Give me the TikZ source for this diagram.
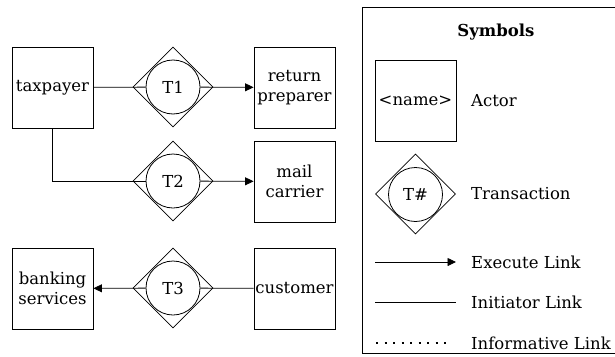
\documentclass[tikz,border=0pt]{standalone}
\usepackage{fontspec}
\setmainfont{DejaVu Serif}
\usepackage{tikz}
\usetikzlibrary{shapes.geometric}
\usetikzlibrary{arrows.meta}
\usetikzlibrary{positioning}

\tikzset{
  actor/.style={draw, line width=0.9pt, minimum width=81pt, minimum height=81pt, inner sep=0pt, align=center},
  transdiamond/.style={draw, diamond, line width=0.8pt, minimum width=80pt, minimum height=80pt, inner sep=0pt},
  transcircle/.style={draw, circle, line width=0.8pt, minimum size=54pt, inner sep=0pt},
  execlink/.style={line width=0.8pt, -{Triangle[length=8.5pt,width=8pt]}},
  initlink/.style={line width=0.8pt},
  infolink/.style={line width=1.3pt, dash pattern=on 2pt off 6.5pt},
  legtext/.style={anchor=west, inner sep=0pt}
}

\begin{document}
\begin{tikzpicture}[x=1pt,y=-1pt]
\fontsize{16.5}{20}\selectfont
\useasboundingbox (0,0) rectangle (615,356);

% actors
\node [actor] (tax)  at (52.5,87.5)  {taxpayer};
\node [actor] (prep) at (294.5,87.5) {return\\preparer};
\node [actor] (mail) at (294.5,181.5) {mail\\carrier};
\node [actor] (bank) at (52.5,288.5) {banking\\services};
\node [actor] (cust) at (294.5,288.5) {customer};

% transactions
\node [transdiamond] (d1) at (173,87) {};
\node [transcircle]  (t1) at (173,87) {T1};
\node [transdiamond] (d2) at (173,181) {};
\node [transcircle]  (t2) at (173,181) {T2};
\node [transdiamond] (d3) at (173,288) {};
\node [transcircle]  (t3) at (173,288) {T3};

% links
\draw [initlink] (tax) -- (t1);
\draw [execlink] (t1) -- (prep);
\draw [initlink] (tax.south) |- (t2);
\draw [execlink] (t2) -- (mail);
\draw [initlink] (cust) -- (t3);
\draw [execlink] (t3) -- (bank);

% legend
\coordinate (lgsw) at (362,353);
\coordinate (lgne) at (620,7);
\draw [line width=0.9pt] (lgsw) rectangle (lgne);
\node [font=\bfseries] (lgtitle) at (496,32) {Symbols};

\node [actor] (lgactor) at (415.5,100.5) {<name>};
\node [legtext] (lgactortxt) at (471,100.5) {Actor};

\node [transdiamond] (lgd) at (415.5,194) {};
\node [transcircle]  (lgt) at (415.5,194.5) {T\#};
\node [legtext] (lgtranstxt) at (471,194) {Transaction};

\coordinate (ex1) at (375,262);
\coordinate (ex2) at (456,262);
\draw [execlink] (ex1) -- (ex2);
\node [legtext] (lgextxt) at (471,262) {Execute Link};

\coordinate (in1) at (375,302);
\coordinate (in2) at (456,302);
\draw [initlink] (in1) -- (in2);
\node [legtext] (lgintxt) at (471,302) {Initiator Link};

\coordinate (if1) at (376,343);
\coordinate (if2) at (452,343);
\draw [infolink] (if1) -- (if2);
\node [legtext] (lgiftxt) at (471,343) {Informative Link};

\end{tikzpicture}
\end{document}
